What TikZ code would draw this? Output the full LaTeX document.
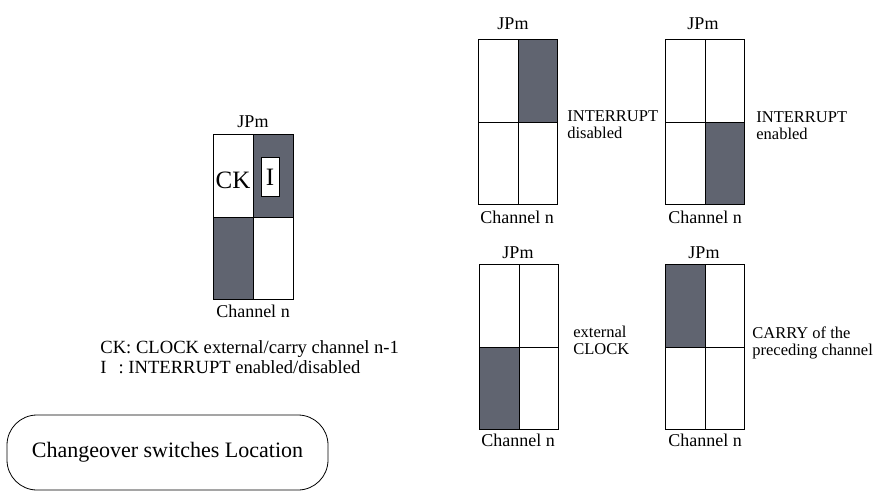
\documentclass[tikz,border=0pt]{standalone}
\usepackage{fontspec}
\setmainfont{Liberation Serif}
\definecolor{shade}{RGB}{96,100,112}
\begin{document}
\begin{tikzpicture}[x=1pt,y=-1pt,line width=0.8pt,
  dark/.style={fill=shade},
  grid/.style={draw=black,line width=0.8pt},
  lbl/.style={font=\rmfamily\fontsize{16.5}{17}\selectfont,align=left,anchor=west,inner sep=0pt},
  captext/.style={font=\rmfamily\fontsize{18}{20}\selectfont,inner sep=0pt},
  notetext/.style={font=\rmfamily\fontsize{18.6}{20}\selectfont,anchor=west,inner sep=0pt},
  bigtext/.style={font=\rmfamily\fontsize{25}{27}\selectfont,inner sep=0pt}]
\useasboundingbox (0,0) rectangle (879,491);

% ---------- main switch ----------
\fill[dark] (253,134) rectangle (293,217);
\fill[dark] (213,217) rectangle (253,299);
\draw[grid] (213,134) rectangle (293,299);
\draw[grid] (253,134) -- (253,299);
\draw[grid] (213,217) -- (293,217);
\draw[grid,fill=white] (261,157) rectangle (279,196);
\node[bigtext] (ck) at (233,180) {CK};
\node[bigtext] (ib) at (270,177) {I};
\node[captext] (mjp) at (253,122) {JPm};
\node[captext] (mch) at (253,311) {Channel n};
\node[notetext] (c1) at (100,349) {CK: CLOCK external/carry channel n-1};
\node[notetext] (c2) at (100,367) {I\hspace{12pt}: INTERRUPT enabled/disabled};

% ---------- location box ----------
\node[draw,line width=0.8pt,rounded corners=30pt,minimum width=321pt,minimum height=75pt,
  font=\rmfamily\fontsize{22}{24}\selectfont] (loc) at (167.5,452.5) {Changeover switches Location};

% ---------- INTERRUPT disabled ----------
\fill[dark] (518,39) rectangle (557,122);
\draw[grid] (478,39) rectangle (557,204);
\draw[grid] (518,39) -- (518,204);
\draw[grid] (478,122) -- (557,122);
\node[captext] (j1) at (513,24) {JPm};
\node[captext] (n1) at (517,217) {Channel n};
\node[lbl] (l1) at (567,125) {INTERRUPT\\disabled};

% ---------- INTERRUPT enabled ----------
\fill[dark] (705,122) rectangle (744,204);
\draw[grid] (665,39) rectangle (744,204);
\draw[grid] (705,39) -- (705,204);
\draw[grid] (665,122) -- (744,122);
\node[captext] (j2) at (703,24) {JPm};
\node[captext] (n2) at (705,217) {Channel n};
\node[lbl] (l2) at (756,126) {INTERRUPT\\enabled};

% ---------- external CLOCK ----------
\fill[dark] (479,347) rectangle (519,429);
\draw[grid] (479,264) rectangle (558,429);
\draw[grid] (519,264) -- (519,429);
\draw[grid] (479,347) -- (558,347);
\node[captext] (j3) at (518,253) {JPm};
\node[captext] (n3) at (518,440) {Channel n};
\node[lbl] (l3) at (573,340) {external\\CLOCK};

% ---------- CARRY ----------
\fill[dark] (665,264) rectangle (705,347);
\draw[grid] (665,264) rectangle (744,429);
\draw[grid] (705,264) -- (705,429);
\draw[grid] (665,347) -- (744,347);
\node[captext] (j4) at (704,253) {JPm};
\node[captext] (n4) at (705,440) {Channel n};
\node[lbl] (l4) at (752,343) {CARRY of the\\preceding channel};
\end{tikzpicture}
\end{document}
